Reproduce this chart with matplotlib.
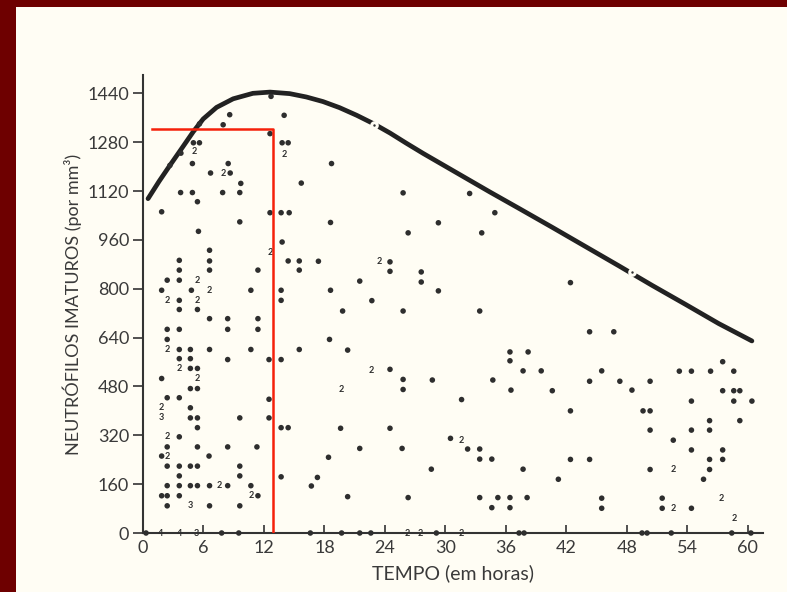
import matplotlib
matplotlib.use("Agg")
import matplotlib.pyplot as plt
from matplotlib.patches import Rectangle

# horas x neutrofilos imaturos (por mm3), pontos isolados
pts_x = [12.7, 14.0, 8.6, 7.95, 5.6, 12.6, 5.0, 5.6, 3.76, 2.67, 4.9, 6.7, 8.65, 8.45, 9.7,
         3.73, 4.9, 7.9, 9.6, 5.4, 1.85, 9.6, 12.6, 13.7, 14.5, 15.7, 13.8, 14.4, 5.5, 13.8,
         6.6, 6.6, 6.6, 3.6, 3.6, 2.4, 3.6, 1.85, 4.8, 10.7, 11.4, 13.7, 13.7, 3.6, 3.6, 5.4,
         14.4, 15.5, 15.5, 6.6, 8.4, 11.4, 2.4, 3.6, 8.4, 11.4, 2.4, 3.6, 4.7, 6.6, 10.7, 15.5,
         3.6, 4.7, 8.4, 12.5, 13.7, 4.7, 5.4, 4.7, 5.4, 1.85, 2.4, 3.6, 12.5, 4.7,
         4.7, 5.4, 9.6, 12.5, 5.4, 13.7, 14.4, 3.6, 2.4, 5.4, 8.4, 11.3, 1.85, 6.55,
         2.4, 3.6, 4.7, 5.4, 9.6, 3.6, 9.6, 13.7, 2.4, 3.6, 4.7, 5.4, 6.6, 8.4, 10.7,
         1.85, 2.4, 3.6, 11.4, 2.4, 6.6, 9.6,
         18.7, 18.6, 25.8, 32.4, 34.9, 29.3, 26.3, 33.6, 17.4, 24.5, 24.5, 27.6, 27.6, 21.5,
         18.6, 22.7, 29.3, 19.8, 25.8, 33.4, 18.5, 20.3, 24.5, 25.8, 25.8, 28.7, 31.6, 34.7,
         36.4, 38.2, 36.4, 37.7, 36.5, 19.6, 24.5, 30.5, 32.2, 33.4, 33.4, 34.6, 21.5, 25.7,
         18.4, 28.6, 37.7, 17.3, 16.7, 20.3, 26.3, 33.4, 35.2, 36.4, 38.1, 34.6, 36.4,
         42.4, 44.3, 46.7, 39.5, 45.5, 44.3, 47.3, 50.3, 40.6, 48.5, 42.4, 49.6, 50.3, 50.3,
         42.4, 44.3, 41.2, 45.5, 45.5, 50.3, 51.5, 51.5, 52.6, 53.2, 54.4, 56.3, 54.4, 54.4,
         54.4, 54.4, 56.2, 56.2, 56.2, 56.2, 55.6, 57.5, 57.5, 57.5, 57.5, 58.6, 58.6, 59.2,
         58.6, 59.2, 60.4,
         0.3, 7.8, 9.5, 16.6, 19.7, 21.5, 22.6, 29.1, 37.3, 37.8, 49.5, 50.0, 52.4, 58.4, 60.3]
pts_y = [1430, 1368, 1370, 1337, 1340, 1308, 1278, 1278, 1244, 1204, 1210, 1179, 1179, 1210, 1145,
         1115, 1115, 1115, 1115, 1085, 1052, 1019, 1049, 1049, 1049, 1146, 1278, 1278, 988, 953,
         926, 891, 861, 893, 861, 828, 828, 795, 795, 795, 861, 795, 762, 762, 732, 732,
         891, 891, 861, 702, 702, 702, 667, 667, 667, 667, 634, 601, 601, 601, 601, 601,
         571, 571, 568, 568, 568, 539, 539, 473, 473, 506, 443, 443, 438, 410,
         377, 377, 377, 377, 345, 345, 345, 315, 282, 282, 282, 282, 252, 252,
         219, 219, 219, 219, 219, 187, 187, 184, 155, 155, 155, 155, 155, 155, 155,
         122, 122, 122, 122, 89, 89, 89,
         1210, 1017, 1114, 1112, 1049, 1016, 983, 983, 890, 888, 857, 855, 822, 825,
         795, 761, 793, 727, 727, 727, 634, 599, 536, 503, 470, 501, 437, 501,
         593, 593, 564, 531, 468, 343, 343, 310, 275, 275, 242, 242, 277, 277,
         248, 209, 209, 182, 154, 119, 116, 116, 116, 116, 116, 83, 83,
         820, 659, 659, 531, 531, 497, 497, 497, 466, 468, 400, 400, 400, 337,
         241, 241, 176, 114, 81, 208, 114, 81, 304, 530, 530, 530, 432, 337,
         272, 81, 368, 337, 241, 208, 176, 561, 466, 272, 241, 530, 466, 466,
         432, 368, 432,
         0, 0, 0, 0, 0, 0, 0, 0, 0, 0, 0, 0, 0, 0, 0]

# pontos sobre a curva (com interrupcao do traco)
on_curve_x = [22.9, 48.5]
on_curve_y = [1337, 855]

# observacoes repetidas, marcadas com o numero de casos
rep_x = [8.0, 5.1, 14.0, 12.6, 5.4, 6.6, 2.4, 5.4, 2.4, 3.6, 5.4, 1.85, 2.4, 2.4, 7.6, 10.7,
         1.85, 4.7, 22.6, 19.7, 23.4, 31.6, 52.6, 52.6, 57.4, 58.6,
         1.7, 3.6, 5.3, 26.2, 27.5, 31.6]
rep_y = [1179, 1250, 1240, 920, 828, 795, 762, 762, 601, 539, 506, 410, 315, 252, 155, 122,
         377, 89, 533, 470, 888, 304, 208, 81, 114, 48,
         0, 0, 0, 0, 0, 0]
rep_n = ["2", "2", "2", "2", "2", "2", "2", "2", "2", "2", "2", "2", "2", "2", "2", "2",
         "3", "3", "2", "2", "2", "2", "2", "2", "2", "2",
         "4", "4", "3", "2", "2", "2"]

# limite superior
curve_x = [0.5, 1.6, 2.67, 3.83, 4.98, 5.97, 7.3, 8.94, 10.9, 12.6, 14.55, 16.2, 17.85, 19.5,
           21.2, 22.9, 24.5, 26.1, 27.8, 31.1, 34.4, 37.3, 40.6, 43.9, 47.2, 50.5, 53.8,
           57.1, 60.4]
curve_y = [1095, 1152, 1204, 1259, 1314, 1356, 1394, 1422, 1440, 1444, 1439, 1428, 1413, 1393,
           1368, 1340, 1310, 1277, 1243, 1180, 1117, 1063, 1001, 938, 875, 811, 749,
           686, 629]

# marcacao em vermelho
red_x = [0.86, 12.9, 12.9]
red_y = [1324, 1324, -3]

yticks = list(range(0, 1441, 160))
xticks = list(range(0, 61, 6))

paper = "#fffdf4"
ink = "#2e2e2e"
text_c = "#3a3a3a"
plt.rcParams["font.family"] = ["Lato", "DejaVu Sans"]

fig = plt.figure(figsize=(7.87, 5.92), dpi=100, facecolor=paper)
fig.add_artist(Rectangle((0, 0), 16 / 787, 1, transform=fig.transFigure,
                         facecolor="#6e0000", edgecolor="none", zorder=0))
fig.add_artist(Rectangle((0, 1 - 7 / 592), 1, 7 / 592, transform=fig.transFigure,
                         facecolor="#6e0000", edgecolor="none", zorder=0))

ax = fig.add_axes([143 / 787, 59 / 592, 620 / 787, 458 / 592])
ax.set_facecolor(paper)

ax.plot(curve_x, curve_y, color="#222222", lw=3.4, solid_capstyle="round",
        solid_joinstyle="round", zorder=2)
ax.plot(red_x, red_y, color="#f5200a", lw=1.8, zorder=4)

ax.scatter(pts_x, pts_y, s=16, color=ink, edgecolors="none", zorder=3, clip_on=False)
ax.scatter(on_curve_x, on_curve_y, s=16, color=ink, edgecolors=paper, linewidths=2.2,
           zorder=3)
for x, y, n in zip(rep_x, rep_y, rep_n):
    ax.text(x, y, n, fontsize=6.5, fontweight="bold", color=ink, ha="center", va="center",
            zorder=3)

ax.set_xlim(0, 61.5)
ax.set_ylim(0, 1500)
ax.set_xticks(xticks)
ax.set_yticks(yticks)
ax.spines["top"].set_visible(False)
ax.spines["right"].set_visible(False)
for side in ("left", "bottom"):
    ax.spines[side].set_color("#333333")
    ax.spines[side].set_linewidth(1.5)
ax.tick_params(axis="y", direction="out", length=7, width=1.2, color="#333333",
               labelsize=13, labelcolor=text_c, pad=3)
ax.tick_params(axis="x", direction="in", length=6, width=1.2, color="#333333",
               labelsize=13, labelcolor=text_c, pad=5)

ax.set_xlabel("TEMPO (em horas)", fontsize=14, color=text_c, labelpad=6)
ax.set_ylabel("NEUTRÓFILOS IMATUROS (por mm³)", fontsize=13, color=text_c, labelpad=4)

fig.savefig("out.png", dpi=100, facecolor=paper)
